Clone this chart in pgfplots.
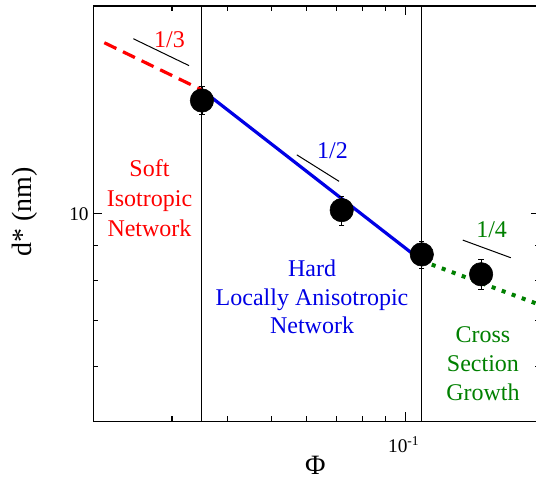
\documentclass[border=0pt]{standalone}
\usepackage{fontspec}
\setmainfont{Liberation Serif}
\usepackage{pgfplots}
\usepackage{pgfplotstable}
\pgfplotsset{compat=1.18}
\definecolor{myred}{rgb}{1,0,0}
\definecolor{myblue}{rgb}{0,0,0.9}
\definecolor{mygreen}{rgb}{0,0.5,0}
\pgfplotstableread{
x y ep em
0.035 14.59 0.69 0.66
0.0719 10.12 0.48 0.49
0.1086 8.73 0.40 0.40
0.1474 8.17 0.42 0.40
}\datatable
\begin{document}
\begin{tikzpicture}
\begin{axis}[
  name=ax,
  at={(0,0)}, anchor=south west,
  scale only axis,
  width=335.25pt, height=311.55pt,
  xmode=log, ymode=log,
  xmin=0.02, xmax=0.2, ymin=5, ymax=20,
  xtick={0.1}, xticklabels={10\textsuperscript{-1}},
  ytick={10}, yticklabels={10},
  minor xtick={0.03,0.04,0.05,0.06,0.07,0.08,0.09},
  minor ytick={6,7,8,9},
  major tick length=6.75pt, minor tick length=3.75pt,
  tick style={black, line width=0.8pt},
  axis line style={line width=1pt},
  tick label style={font=\fontsize{14.5}{14.5}\selectfont},
  xticklabel style={yshift=-8pt, xshift=-1.5pt},
  xlabel={Φ},
  xlabel style={at={(axis description cs:0.4966,0)}, anchor=center, yshift=-32.7pt, font=\fontsize{21}{21}\selectfont},
  ylabel={d* (nm)},
  ylabel style={at={(axis description cs:-0.1528,0.504)}, anchor=center, font=\fontsize{21}{21}\selectfont},
  clip=false,
]
\addplot[black, line width=0.75pt] coordinates {(0.035,5) (0.035,20)};
\addplot[black, line width=0.75pt] coordinates {(0.1086,5) (0.1086,20)};
\addplot[black, line width=0.75pt] coordinates {(0.02458,17.93) (0.03275,16.39)};
\addplot[black, line width=0.75pt] coordinates {(0.05705,12.17) (0.07093,11.14)};
\addplot[black, line width=0.75pt] coordinates {(0.1341,9.157) (0.1718,8.633)};
\addplot[myred, line width=2.4pt, dash pattern=on 10pt off 5.5pt] coordinates {(0.02117,17.69) (0.035,15.11)};
\addplot[myblue, line width=2.4pt] coordinates {(0.035,15.11) (0.1086,8.543)};
\addplot[mygreen, line width=3pt, dash pattern=on 3pt off 5pt] coordinates {(0.1086,8.543) (0.1957,7.413)};
\addplot[only marks, mark=*, mark size=8.8pt, black,
  error bars/.cd, y dir=both, y explicit,
  error bar style={line width=0.6pt, black},
  error mark options={black, mark size=2pt, line width=0.6pt, rotate=90}]
  table[x=x, y=y, y error plus=ep, y error minus=em] {\datatable};
\node[myred, font=\fontsize{18}{18}\selectfont] at (rel axis cs:0.1705,0.919) {1/3};
\node[myblue, font=\fontsize{18}{18}\selectfont] at (rel axis cs:0.535,0.651) {1/2};
\node[mygreen, font=\fontsize{18}{18}\selectfont] at (rel axis cs:0.891,0.461) {1/4};
\node[myred, align=center, font=\fontsize{18}{22.5}\selectfont] at (rel axis cs:0.1257,0.538) {Soft\\Isotropic\\Network};
\node[myblue, align=center, font=\fontsize{18}{21.5}\selectfont] at (rel axis cs:0.4893,0.2995) {Hard\\Locally Anisotropic\\Network};
\node[mygreen, align=center, font=\fontsize{18}{21.75}\selectfont] at (rel axis cs:0.8716,0.138) {Cross\\Section\\Growth};
\end{axis}
\pgfresetboundingbox
\path[use as bounding box] (-69.98pt,-44.7pt) rectangle (332.0pt,316.05pt);
\end{tikzpicture}
\end{document}
